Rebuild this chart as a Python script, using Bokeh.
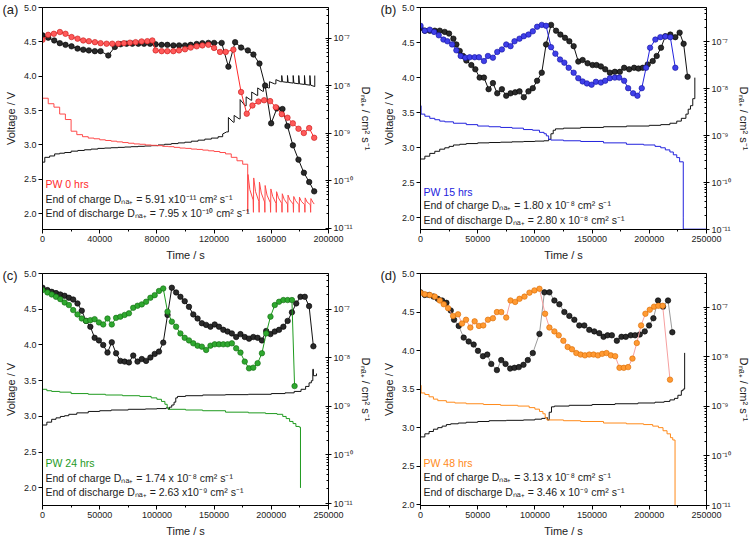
from bokeh.plotting import figure
from bokeh.models import (Range1d, LogAxis, LogScale, FixedTicker,
                          CustomJSTickFormatter, NumeralTickFormatter, Label)
from bokeh.layouts import gridplot
from bokeh.embed import file_html
from bokeh.resources import INLINE

FONT = "Liberation Sans"

# ---------------- tick definitions ----------------
V_TICKS = [2.0, 2.5, 3.0, 3.5, 4.0, 4.5, 5.0]
T_TICKS_A = [0, 40000, 80000, 120000, 160000, 200000]
T_MINOR_A = [20000, 60000, 100000, 140000, 180000]
T_TICKS_B = [0, 50000, 100000, 150000, 200000, 250000]
T_MINOR_B = [25000, 75000, 125000, 175000, 225000]
D_TICKS = [1e-11, 1e-10, 1e-9, 1e-8, 1e-7]
D_MANT = [2, 3, 4, 5, 6, 7, 8, 9]
D_MINOR = [m * d for d in D_TICKS for m in D_MANT]

# ---------------- panel (a) PW 0 hrs ----------------
a_tVc = [0, 1600, 5000, 8500, 12000, 15500, 20000, 24700, 29300, 34000, 38700, 43400, 48000,
         52700, 57400, 62000, 66800, 71400, 76100, 80800, 85400, 90100, 94800, 99500, 104100,
         108800, 113500, 118100, 122800, 126000]
a_Vc = [2.75, 2.82, 2.84, 2.87, 2.88, 2.89, 2.91, 2.92, 2.93, 2.94, 2.95, 2.955, 2.96, 2.965,
        2.97, 2.975, 2.98, 2.985, 2.99, 3.0, 3.01, 3.02, 3.03, 3.04, 3.055, 3.07, 3.085, 3.10,
        3.12, 3.16]
a_tVc2 = [126000, 128800, 130000, 130000, 133500, 134000, 134000, 137500, 138200, 138200, 141700,
          142400, 142400, 145900, 146300, 146300, 150100, 150500, 150500, 154000, 154500, 154500,
          158000, 158700, 158700, 162200, 163200, 163200, 166600, 167300, 167300, 167800, 171300,
          171300, 171800, 175300, 175300, 175800, 179200, 179200, 179700, 183200, 183200, 183700,
          187000, 187000, 187500, 190400, 190400]
a_Vc2 = [3.16, 3.19, 3.19, 3.40, 3.33, 3.33, 3.43, 3.38, 3.38, 3.66, 3.57, 3.57, 3.70, 3.65, 3.65,
         3.77, 3.72, 3.72, 3.83, 3.78, 3.78, 3.86, 3.83, 3.83, 3.92, 3.89, 3.89, 3.95, 3.92, 3.92,
         4.01, 3.92, 3.91, 4.01, 3.91, 3.90, 4.01, 3.90, 3.89, 4.01, 3.89, 3.88, 4.01, 3.88, 3.87,
         4.01, 3.87, 3.85, 4.01]
a_tVd = [0, 4000, 8000, 12000, 16000, 20000, 24000, 28000, 32000, 36000, 40000, 44000, 48000,
         52000, 56000, 60000, 64000, 68000, 72000, 76000, 80000, 84000, 88000, 92000, 96000,
         100000, 104000, 108000, 112000, 116000, 120000, 124000, 128000, 132000, 136000, 140000,
         143500]
a_Vd = [3.68, 3.6, 3.55, 3.45, 3.37, 3.2, 3.15, 3.12, 3.1, 3.09, 3.075, 3.065, 3.055, 3.045,
        3.035, 3.025, 3.015, 3.01, 3.0, 2.995, 2.99, 2.98, 2.975, 2.965, 2.955, 2.95, 2.94, 2.935,
        2.925, 2.915, 2.905, 2.89, 2.87, 2.82, 2.77, 2.72, 2.72]
a_tVd2 = [143500, 143500, 143700, 145000, 147300, 147500, 147700, 149000, 151300, 151500, 151700,
          153000, 155300, 155500, 155700, 157000, 159300, 159500, 159700, 161000, 163300, 163500,
          163700, 165000, 167300, 167500, 167700, 169000, 171300, 171500, 171700, 173000, 175300,
          175500, 175700, 177000, 179300, 179500, 179700, 181000, 183300, 183500, 183700, 185000,
          187300, 187500, 187700, 189000, 190000]
a_Vd2 = [2.72, 2.02, 2.57, 2.35, 2.2, 2.02, 2.52, 2.32, 2.18, 2.02, 2.46, 2.3, 2.17, 2.02, 2.41,
         2.27, 2.16, 2.02, 2.36, 2.25, 2.15, 2.02, 2.32, 2.23, 2.15, 2.02, 2.29, 2.21, 2.14, 2.02,
         2.27, 2.2, 2.14, 2.02, 2.25, 2.19, 2.13, 2.02, 2.24, 2.18, 2.13, 2.02, 2.23, 2.17, 2.13,
         2.02, 2.22, 2.17, 2.14]
a_tDc = [0, 4000, 8200, 12100, 16100, 20300, 24500, 28500, 32400, 36600, 40600, 46000, 50600,
         54600, 58800, 62800, 67000, 71000, 75200, 79100, 83300, 87300, 91500, 95500, 99700,
         103600, 107800, 111800, 116000, 120000, 125300, 130000, 134700, 138900, 143600, 147500,
         151700, 155700, 159900, 163900, 167800, 171300, 175100, 179000, 182800, 186500, 190000]
a_Dc = [1.14e-7, 1.02e-7, 8.9e-8, 7.8e-8, 7.2e-8, 6.7e-8, 6.0e-8, 5.7e-8, 5.5e-8, 5.3e-8, 5.3e-8,
        4.3e-8, 6.5e-8, 7.4e-8, 7.6e-8, 7.6e-8, 7.6e-8, 7.6e-8, 7.6e-8, 7.4e-8, 7.2e-8, 7.2e-8,
        7.0e-8, 7.0e-8, 7.0e-8, 7.2e-8, 7.5e-8, 7.8e-8, 7.9e-8, 7.9e-8, 7.9e-8, 2.5e-8, 8.2e-8,
        6.3e-8, 5.5e-8, 4.5e-8, 2.9e-8, 1.0e-8, 1.6e-9, 3.3e-9, 3.2e-9, 1.4e-9, 5.5e-10, 2.75e-10,
        1.46e-10, 9.3e-11, 5.91e-11]
a_tDd = [0, 3970, 7940, 12140, 16100, 20310, 24510, 28480, 32440, 36640, 40610, 44810, 48780,
         52980, 56950, 61150, 65120, 69320, 73290, 76790, 79120, 83320, 87290, 91490, 95460,
         99660, 103630, 107830, 111800, 116000, 119970, 124170, 128140, 133500, 138870, 142840,
         146810, 151010, 154980, 159180, 163150, 167350, 171320, 175050, 179020, 182750, 186490,
         190000]
a_Dd = [9.2e-8, 1.17e-7, 1.23e-7, 1.34e-7, 1.23e-7, 1.05e-7, 9.7e-8, 8.9e-8, 8.6e-8, 8.2e-8,
        7.8e-8, 7.6e-8, 7.6e-8, 7.6e-8, 7.8e-8, 8.0e-8, 8.2e-8, 8.5e-8, 8.6e-8, 8.9e-8, 5.5e-8,
        5.3e-8, 5.3e-8, 5.3e-8, 5.5e-8, 5.8e-8, 6.3e-8, 6.7e-8, 7.0e-8, 7.2e-8, 6.2e-8, 5.1e-8,
        5.1e-8, 5.7e-8, 7.3e-9, 2.55e-9, 3.8e-9, 4.6e-9, 4.9e-9, 4.7e-9, 3.5e-9, 2.5e-9, 2.1e-9,
        1.6e-9, 1.23e-9, 1.0e-9, 1.27e-9, 7.95e-10]

# ---------------- panel (b) PW 15 hrs ----------------
b_tVc = [0, 3800, 8100, 12500, 16800, 21200, 25000, 28800, 34300, 40000, 50000, 60000, 70000,
         80000, 90000, 100000, 108000, 112000, 114000, 116000, 118000, 125000, 140000, 160000,
         180000, 200000, 210000, 218000, 224000, 228000, 232000, 234000, 236000, 238000, 239800]
b_Vc = [2.84, 2.88, 2.92, 2.95, 2.98, 3.0, 3.02, 3.04, 3.05, 3.06, 3.07, 3.075, 3.08, 3.085,
        3.09, 3.095, 3.10, 3.12, 3.2, 3.25, 3.27, 3.28, 3.29, 3.3, 3.31, 3.32, 3.33, 3.35, 3.38,
        3.42, 3.48, 3.55, 3.6, 3.7, 4.0]
b_tVd = [0, 500, 3800, 8100, 12500, 16800, 21200, 28800, 40000, 50000, 60000, 70000, 80000,
         90000, 98000, 104000, 108000, 110000, 112000, 114000, 125000, 140000, 160000, 180000,
         195000, 205000, 210000, 214000, 218000, 221000, 224000, 226500, 229700, 229700, 250000]
b_Vd = [3.6, 3.48, 3.45, 3.42, 3.4, 3.38, 3.37, 3.35, 3.33, 3.31, 3.3, 3.29, 3.28, 3.26, 3.25,
        3.22, 3.2, 3.17, 3.12, 3.11, 3.1, 3.09, 3.07, 3.05, 3.04, 3.02, 3.0, 2.97, 2.94, 2.9,
        2.86, 2.8, 2.0, 1.84, 1.84]
b_tDc = [0, 3780, 8130, 12490, 16840, 21200, 24970, 28750, 31360, 34270, 37170, 40080, 44430,
         47920, 51690, 55470, 59530, 63310, 67080, 71150, 74930, 78700, 82760, 86540, 90310,
         94380, 98160, 101930, 106000, 109770, 114130, 118490, 122260, 126320, 130100, 133870,
         137940, 141720, 146070, 150430, 153910, 157690, 161460, 165530, 169880, 174240, 178020,
         182370, 186730, 190500, 194280, 198630, 202990, 206470, 210250, 214020, 218380, 222740,
         226510, 230000, 233480]
b_Dc = [1.98e-7, 1.73e-7, 1.73e-7, 1.73e-7, 1.73e-7, 1.63e-7, 1.50e-7, 1.17e-7, 8.8e-8, 6.4e-8,
        5.0e-8, 4.0e-8, 3.2e-8, 2.6e-8, 1.73e-8, 1.73e-8, 9.8e-9, 1.32e-8, 8.0e-9, 9.8e-9, 7.1e-9,
        8.0e-9, 8.4e-9, 8.8e-9, 6.6e-9, 8.8e-9, 1.03e-8, 1.48e-8, 2.2e-8, 8.8e-8, 2.3e-7, 1.73e-7,
        1.43e-7, 1.22e-7, 1.03e-7, 8.1e-8, 3.8e-8, 4.1e-8, 3.5e-8, 3.2e-8, 3.2e-8, 3.0e-8, 2.6e-8,
        2.2e-8, 2.3e-8, 2.3e-8, 2.8e-8, 2.6e-8, 2.8e-8, 2.7e-8, 2.8e-8, 3.3e-8, 3.9e-8, 5.0e-8,
        7.5e-8, 1.32e-7, 1.43e-7, 1.26e-7, 1.57e-7, 9.1e-8, 1.80e-8]
b_tDd = [0, 3780, 8130, 11910, 15970, 20040, 23520, 27590, 31360, 35140, 39210, 42980, 47340,
         51110, 55470, 58960, 63310, 67080, 71150, 74930, 78700, 82180, 86540, 90310, 94380,
         98160, 101930, 106000, 109770, 114130, 117900, 121970, 125740, 129520, 133870, 137940,
         141720, 145490, 149560, 153330, 157690, 161460, 165530, 169880, 173660, 178020, 181500,
         185860, 189630, 193410, 197180, 200670, 205310, 209670, 214020, 218380, 222740]
b_Dd = [2.2e-7, 1.73e-7, 1.82e-7, 1.63e-7, 1.38e-7, 1.12e-7, 1.03e-7, 8.8e-8, 6.6e-8, 5.0e-8,
        4.6e-8, 4.7e-8, 4.7e-8, 4.7e-8, 3.9e-8, 5.0e-8, 4.6e-8, 6.1e-8, 6.9e-8, 8.8e-8, 8.1e-8,
        1.03e-7, 1.17e-7, 1.32e-7, 1.43e-7, 1.68e-7, 2.1e-7, 2.3e-7, 2.2e-7, 7.7e-8, 5.6e-8,
        4.2e-8, 3.6e-8, 2.8e-8, 2.2e-8, 1.68e-8, 1.43e-8, 1.30e-8, 1.22e-8, 1.41e-8, 1.36e-8,
        1.48e-8, 1.68e-8, 1.73e-8, 1.73e-8, 1.48e-8, 1.03e-8, 8.0e-9, 7.1e-9, 1.03e-8, 2.8e-8,
        7.5e-8, 1.12e-7, 1.26e-7, 1.30e-7, 1.26e-7, 2.8e-8]

# ---------------- panel (c) PW 24 hrs ----------------
c_tVc = [0, 3800, 8000, 11800, 15600, 19300, 23000, 30000, 40000, 50000, 60000, 75000, 90000,
         100000, 108000, 110000, 111000, 113000, 115000, 116500, 118000, 125000, 140000, 160000,
         180000, 200000, 212000, 220000, 226000, 230000, 233000, 235000, 236300, 236800, 239500]
c_Vc = [2.88, 2.92, 2.96, 2.98, 3.0, 3.01, 3.03, 3.05, 3.07, 3.08, 3.09, 3.1, 3.105, 3.11, 3.12,
        3.1, 3.13, 3.16, 3.2, 3.26, 3.28, 3.29, 3.3, 3.305, 3.31, 3.32, 3.33, 3.35, 3.38, 3.42,
        3.47, 3.5, 3.66, 3.57, 3.6]
c_tVd = [0, 3800, 8000, 15000, 25000, 40000, 55000, 70000, 85000, 95000, 100000, 104000, 107000,
         109000, 110200, 125000, 140000, 160000, 180000, 195000, 205000, 210000, 213000, 216000,
         219000, 221500, 224500, 225500]
c_Vd = [3.38, 3.36, 3.35, 3.34, 3.32, 3.31, 3.3, 3.29, 3.28, 3.26, 3.24, 3.21, 3.17, 3.12, 3.1,
        3.09, 3.08, 3.06, 3.05, 3.04, 3.03, 3.0, 2.97, 2.93, 2.9, 2.86, 2.85, 2.0]
c_tDc = [0, 4330, 8080, 11820, 15570, 19320, 23070, 26820, 30570, 34320, 38070, 41820, 45570,
         49320, 53070, 56820, 60570, 64320, 68070, 71810, 75560, 79310, 83060, 86810, 90560,
         94310, 98060, 101810, 105550, 109300, 113050, 116800, 120550, 124300, 128050, 131800,
         135550, 139300, 143050, 146800, 150550, 154290, 158040, 161790, 165540, 169290, 173040,
         176790, 180540, 184290, 188040, 191790, 195540, 199280, 203030, 206780, 210530, 214280,
         218030, 221780, 225530, 229280, 233030, 236780]
c_Dc = [2.8e-7, 2.5e-7, 2.3e-7, 2.17e-7, 2.03e-7, 1.91e-7, 1.74e-7, 1.60e-7, 1.33e-7, 9.4e-8,
        5.8e-8, 4.4e-8, 2.6e-8, 2.3e-8, 1.85e-8, 1.29e-8, 2.1e-8, 1.25e-8, 8.7e-9, 8.4e-9, 8.1e-9,
        1.12e-8, 8.4e-9, 9.5e-9, 8.7e-9, 1.02e-8, 1.21e-8, 1.35e-8, 2.07e-8, 7.7e-8, 2.8e-7,
        2.24e-7, 1.82e-7, 1.48e-7, 1.13e-7, 7.9e-8, 6.5e-8, 5.2e-8, 4.8e-8, 4.4e-8, 4.9e-8,
        4.4e-8, 3.8e-8, 3.5e-8, 3.2e-8, 2.7e-8, 3.1e-8, 2.7e-8, 2.5e-8, 2.7e-8, 2.6e-8, 2.3e-8,
        3.6e-8, 3.1e-8, 3.5e-8, 3.8e-8, 4.4e-8, 5.8e-8, 8.7e-8, 1.33e-7, 1.82e-7, 1.82e-7,
        1.17e-7, 1.74e-8]
c_tDd = [0, 4330, 8080, 11820, 15570, 19320, 23070, 26820, 30570, 34320, 38070, 41820, 45570,
         49320, 53070, 56820, 60570, 64320, 68070, 71810, 75560, 79310, 83060, 86810, 90560,
         94310, 98060, 101810, 105550, 109300, 113050, 116800, 120550, 124300, 128050, 131800,
         135550, 139300, 143050, 146800, 150550, 154290, 158040, 161790, 165540, 169290, 173040,
         176790, 180540, 184290, 188040, 191790, 195540, 199280, 203030, 206780, 210530, 214280,
         218030, 220340]
c_Dd = [2.5e-7, 2.24e-7, 2.03e-7, 1.82e-7, 1.63e-7, 1.39e-7, 1.23e-7, 9.7e-8, 7.9e-8, 6.5e-8,
        5.8e-8, 6.0e-8, 6.3e-8, 5.4e-8, 4.9e-8, 6.5e-8, 4.9e-8, 6.7e-8, 7.1e-8, 7.7e-8, 8.3e-8,
        1.08e-7, 1.19e-7, 1.27e-7, 1.44e-7, 1.74e-7, 1.97e-7, 2.4e-7, 2.7e-7, 9.0e-8, 5.6e-8,
        4.4e-8, 3.2e-8, 2.6e-8, 2.3e-8, 2.0e-8, 1.79e-8, 1.71e-8, 1.46e-8, 1.79e-8, 1.91e-8,
        1.91e-8, 1.91e-8, 1.91e-8, 2.0e-8, 1.58e-8, 1.29e-8, 8.4e-9, 6.1e-9, 6.3e-9, 7.8e-9,
        1.25e-8, 3.2e-8, 7.1e-8, 1.23e-7, 1.44e-7, 1.56e-7, 1.56e-7, 1.56e-7, 2.63e-9]

# ---------------- panel (d) PW 48 hrs ----------------
d_tVc = [0, 3800, 7500, 11300, 15100, 18900, 22600, 26400, 33000, 40000, 50000, 60000, 75000,
         90000, 100000, 106000, 109000, 111000, 112500, 114500, 117000, 130000, 150000, 170000,
         190000, 205000, 213000, 218000, 222000, 225000, 228000, 229500, 230900]
d_Vc = [2.88, 2.92, 2.95, 2.98, 3.0, 3.02, 3.04, 3.05, 3.06, 3.07, 3.08, 3.09, 3.095, 3.10,
        3.11, 3.12, 3.13, 3.1, 3.2, 3.27, 3.28, 3.29, 3.3, 3.31, 3.32, 3.33, 3.34, 3.36, 3.38,
        3.42, 3.48, 3.5, 3.97]
d_tVd = [0, 500, 3800, 7500, 11300, 15100, 22600, 30000, 40000, 55000, 70000, 85000, 95000,
         100000, 104000, 107000, 109000, 110500, 125000, 140000, 160000, 180000, 195000, 203000,
         208000, 212000, 215500, 218500, 220500, 222500]
d_Vd = [3.55, 3.45, 3.43, 3.4, 3.37, 3.35, 3.33, 3.32, 3.31, 3.3, 3.29, 3.28, 3.26, 3.24, 3.21,
        3.18, 3.13, 3.1, 3.09, 3.08, 3.06, 3.05, 3.04, 3.02, 3.0, 2.96, 2.92, 2.87, 2.84, 1.99]
d_tDc = [0, 3780, 7550, 11330, 15100, 18880, 22650, 26430, 29330, 33400, 37750, 42110, 46460,
         50240, 54600, 58370, 61860, 66790, 70570, 74340, 78410, 82180, 85960, 90020, 93800,
         98160, 103970, 108320, 112680, 117040, 121390, 125740, 130100, 134460, 138810, 143170,
         147520, 151880, 156240, 160010, 163500, 167270, 171630, 175690, 179470, 183820, 187600,
         191660, 196020, 199800, 203570, 207640, 211990, 216350, 220120]
d_Dc = [2.0e-7, 1.77e-7, 1.77e-7, 1.64e-7, 1.48e-7, 1.37e-7, 1.23e-7, 8.6e-8, 5.6e-8, 4.2e-8,
        2.44e-8, 2.04e-8, 1.77e-8, 1.32e-8, 1.03e-8, 1.11e-8, 7.2e-9, 5.4e-9, 8.6e-9, 7.2e-9,
        5.8e-9, 6.0e-9, 6.2e-9, 6.9e-9, 8.6e-9, 1.19e-8, 2.9e-8, 2.0e-7, 2.0e-7, 1.37e-7, 1.15e-7,
        8.0e-8, 6.7e-8, 5.6e-8, 4.3e-8, 4.3e-8, 3.5e-8, 3.26e-8, 3.0e-8, 2.53e-8, 2.72e-8,
        2.72e-8, 2.11e-8, 2.53e-8, 2.53e-8, 2.72e-8, 2.72e-8, 2.82e-8, 3.26e-8, 4.3e-8, 6.0e-8,
        1.37e-7, 1.03e-7, 1.37e-7, 3.13e-8]
d_tDd = [0, 3780, 8130, 12490, 16840, 20330, 24100, 28460, 32820, 36300, 39790, 43560, 47340,
         51110, 54890, 58960, 63310, 66790, 70570, 74930, 78700, 82760, 86540, 90900, 95250,
         99610, 103970, 108900, 112680, 117040, 120810, 124880, 128650, 132420, 136200, 139970,
         143750, 147520, 151300, 155070, 158850, 162620, 166400, 170170, 173950, 177720, 181500,
         185280, 189050, 192830, 196600, 200380, 204150, 207930, 211700, 218090]
d_Dd = [1.97e-7, 1.83e-7, 1.77e-7, 1.64e-7, 1.37e-7, 1.15e-7, 9.6e-8, 6.7e-8, 7.2e-8, 4.7e-8,
        5.6e-8, 3.9e-8, 5.2e-8, 4.2e-8, 4.3e-8, 5.6e-8, 6.0e-8, 8.0e-8, 8.0e-8, 6.2e-8, 1.37e-7,
        1.28e-7, 1.48e-7, 1.64e-7, 1.97e-7, 2.19e-7, 2.36e-7, 7.4e-8, 3.9e-8, 3.26e-8, 2.72e-8,
        2.11e-8, 1.58e-8, 1.42e-8, 1.19e-8, 1.11e-8, 1.07e-8, 1.11e-8, 1.11e-8, 1.07e-8, 1.15e-8,
        1.19e-8, 1.07e-8, 1.03e-8, 6.0e-9, 6.0e-9, 6.2e-9, 9.2e-9, 1.90e-8, 4.3e-8, 7.4e-8,
        8.9e-8, 1.03e-7, 1.07e-7, 1.07e-7, 3.46e-9]

# ---------------- annotation texts ----------------
TEXT_A = ["PW 0 hrs", "End of charge Dₙₐ₊ = 5.91 x10⁻¹¹ cm² s⁻¹",
          "End of discharge Dₙₐ₊ = 7.95 x 10⁻¹⁰ cm² s⁻¹"]
TEXT_B = ["PW 15 hrs", "End of charge Dₙₐ₊ = 1.80 x 10⁻⁸ cm² s⁻¹",
          "End of discharge Dₙₐ₊ = 2.80 x 10⁻⁸ cm² s⁻¹"]
TEXT_C = ["PW 24 hrs", "End of charge Dₙₐ₊ = 1.74 x 10⁻⁸ cm² s⁻¹",
          "End of discharge Dₙₐ₊ = 2.63 x10⁻⁹ cm² s⁻¹"]
TEXT_D = ["PW 48 hrs", "End of charge Dₙₐ₊ = 3.13 x 10⁻⁸ cm² s⁻¹",
          "End of discharge Dₙₐ₊ = 3.46 x 10⁻⁹ cm² s⁻¹"]

SUP_JS = """
const e = Math.round(Math.log10(tick));
const sup = {'-':'\u207b','0':'\u2070','1':'\u00b9','2':'\u00b2','3':'\u00b3','4':'\u2074',
             '5':'\u2075','6':'\u2076','7':'\u2077','8':'\u2078','9':'\u2079'};
return '10' + String(e).split('').map(c => sup[c]).join('');
"""


def make_panel(letter, height, top, bottom, xmax, xticks, xminor, vmin, vmax,
               dmin, dmax, color, texts, text_y):
    p = figure(width=378, height=height, x_range=Range1d(0, xmax),
               y_range=Range1d(vmin, vmax), output_backend="svg", toolbar_location=None,
               min_border_left=42, min_border_right=50, min_border_top=top,
               min_border_bottom=bottom, title=letter, title_location="above")
    p.title.align = "left"
    p.title.offset = -40
    p.title.standoff = -18
    p.title.text_font = FONT
    p.title.text_font_size = "13px"
    p.title.text_font_style = "normal"
    p.title.text_color = "#222222"
    p.extra_y_ranges = {"D": Range1d(dmin, dmax)}
    p.extra_y_scales = {"D": LogScale()}
    p.grid.visible = False
    p.outline_line_color = "black"
    p.outline_line_width = 1
    p.background_fill_color = "white"
    p.border_fill_color = "white"

    xa = p.xaxis[0]
    xa.ticker = FixedTicker(ticks=xticks, minor_ticks=xminor)
    xa.formatter = NumeralTickFormatter(format="0")
    xa.axis_label = "Time / s"
    ya = p.yaxis[0]
    ya.ticker = FixedTicker(ticks=V_TICKS)
    ya.formatter = NumeralTickFormatter(format="0.0")
    ya.axis_label = "Voltage / V"

    ra = LogAxis(y_range_name="D", ticker=FixedTicker(ticks=D_TICKS, minor_ticks=D_MINOR),
                 formatter=CustomJSTickFormatter(code=SUP_JS),
                 axis_label="Dₙₐ₊ / cm² s⁻¹")
    p.add_layout(ra, "right")

    for ax in (xa, ya, ra):
        ax.axis_line_color = "black"
        ax.major_tick_line_color = "black"
        ax.minor_tick_line_color = "black"
        ax.major_label_text_font = FONT
        ax.major_label_text_font_size = "9px"
        ax.major_label_text_color = "#222222"
        ax.axis_label_text_font = FONT
        ax.axis_label_text_font_size = "11px"
        ax.axis_label_text_font_style = "normal"
        ax.axis_label_text_color = "#222222"
        ax.major_label_standoff = 2
        ax.axis_label_standoff = 4
    xa.major_tick_out = 4
    xa.major_tick_in = 0
    xa.minor_tick_out = 2
    xa.minor_tick_in = 0
    ya.major_tick_out = 4
    ya.major_tick_in = 0
    ra.major_tick_out = 3
    ra.major_tick_in = 3
    ra.minor_tick_out = 0
    ra.minor_tick_in = 2

    for i, (t, yv) in enumerate(zip(texts, text_y)):
        p.add_layout(Label(x=0, y=yv, x_offset=3, text=t, text_font=FONT,
                           text_font_size="10.5px", text_baseline="middle",
                           text_color=color if i == 0 else "#222222"))
    return p


def add_D(p, t, D, line_color, fill, edge):
    p.line(t, D, y_range_name="D", line_color=line_color, line_width=1)
    p.scatter(t, D, y_range_name="D", size=5.5, fill_color=fill, line_color=edge,
              line_width=0.6)


# (a)
pa = make_panel("(a)", 267, 7, 38, 200000, T_TICKS_A, T_MINOR_A, 1.77, 5.0, 9.3e-12, 4.4e-7,
                "#ff2a2a", TEXT_A, [2.436, 2.21, 2.01])
pa.step(a_tVc, a_Vc, mode="after", line_color="#111111", line_width=1)
pa.line(a_tVc2, a_Vc2, line_color="#111111", line_width=1)
pa.step(a_tVd, a_Vd, mode="after", line_color="#ff4a4a", line_width=1)
pa.line(a_tVd2, a_Vd2, line_color="#ff4a4a", line_width=1)
add_D(pa, a_tDc, a_Dc, "#111111", "#2a2a2a", "#000000")
add_D(pa, a_tDd, a_Dd, "#ff2a2a", "#ff5a5a", "#c81414")

# (b)
pb = make_panel("(b)", 267, 7, 38, 250000, T_TICKS_B, T_MINOR_B, 1.835, 5.0, 1e-11, 5.4e-7,
                "#2222dd", TEXT_B, [2.376, 2.178, 1.976])
pb.step(b_tVc, b_Vc, mode="after", line_color="#111111", line_width=1)
pb.step(b_tVd, b_Vd, mode="after", line_color="#2222dd", line_width=1)
add_D(pb, b_tDc, b_Dc, "#111111", "#2a2a2a", "#000000")
add_D(pb, b_tDd, b_Dd, "#2222dd", "#3f3fe8", "#1010a0")

# (c)
pc = make_panel("(c)", 274, 6, 36, 250000, T_TICKS_B, T_MINOR_B, 1.754, 5.0, 9.1e-12, 5.5e-7,
                "#1e9a1e", TEXT_C, [2.348, 2.14, 1.94])
pc.step(c_tVc, c_Vc, mode="after", line_color="#111111", line_width=1)
pc.step(c_tVd, c_Vd, mode="after", line_color="#1e9a1e", line_width=1)
add_D(pc, c_tDc, c_Dc, "#111111", "#2a2a2a", "#000000")
add_D(pc, c_tDd, c_Dd, "#1e9a1e", "#2fa82f", "#0f6a0f")

# (d)
pd = make_panel("(d)", 274, 6, 36, 250000, T_TICKS_B, T_MINOR_B, 1.99, 5.0, 1e-11, 4.8e-7,
                "#ff8a1a", TEXT_D, [2.544, 2.354, 2.17])
pd.step(d_tVc, d_Vc, mode="after", line_color="#111111", line_width=1)
pd.step(d_tVd, d_Vd, mode="after", line_color="#ff8a1a", line_width=1)
add_D(pd, d_tDc, d_Dc, "#9a9a9a", "#2a2a2a", "#000000")
add_D(pd, d_tDd, d_Dd, "#f6a0a0", "#ff9a33", "#d86a00")

grid = gridplot([[pa, pb], [pc, pd]], toolbar_location=None)
open("out.html", "w").write(file_html(grid, INLINE))
